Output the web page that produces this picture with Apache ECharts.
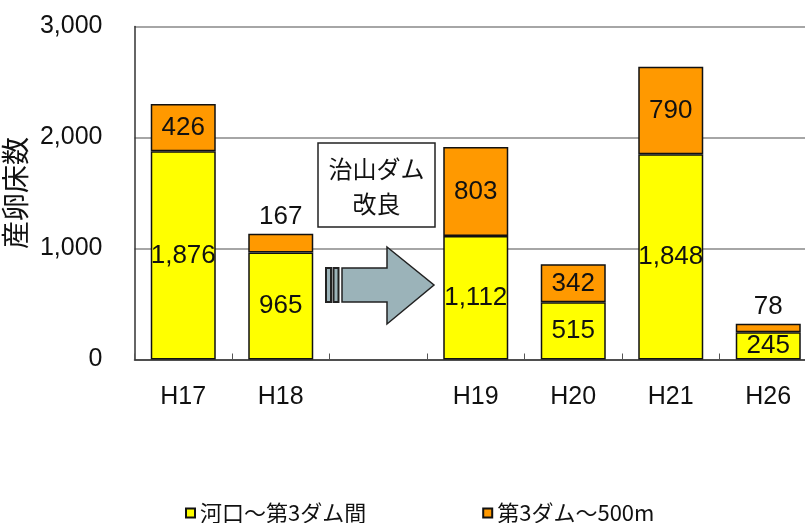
<!DOCTYPE html>
<html>
<head>
<meta charset="utf-8">
<script src="https://cdn.jsdelivr.net/npm/echarts@6/dist/echarts.min.js"></script>
<style>
	html, body { margin: 0; padding: 0; background: #fff; }
	#container { width: 805px; height: 523px; }
</style>
</head>
<body>
<div id="container"></div>
<script>
var categorias = ['H17', 'H18', '', 'H19', 'H20', 'H21', 'H26'];
var valoresKakou = [1876, 965, '-', 1112, 515, 1848, 245];
var valoresDam = [426, 167, '-', 803, 342, 790, 78];
var ticksEjeY = [0, 1000, 2000, 3000];
var nombresSerie = ['河口～第3ダム間', '第3ダム～500m'];

var fuenteNum = "'Liberation Sans', Arial, sans-serif";
var fuenteJp = "'Noto Sans CJK JP', sans-serif";

function conComas(v) {
	return Number(v).toLocaleString('en-US');
}

// etiquetas arriba cuando el tramo es muy chico
var datosDam = valoresDam.map(function (v) {
	if (v !== '-' && v < 200) {
		return { value: v, label: { position: 'top', distance: 4 } };
	}
	return v;
});

var dom = document.getElementById('container');
var myChart = echarts.init(dom);

var option = {
	animation: false,
	backgroundColor: '#fff',
	legend: {
		data: nombresSerie,
		left: 180,
		top: 497,
		icon: 'rect',
		itemWidth: 9,
		itemHeight: 9,
		itemGap: 116,
		textStyle: { fontFamily: fuenteJp, fontSize: 22, color: '#111' }
	},
	grid: {
		left: 134.5,
		right: -12,
		top: 26.5,
		bottom: 163.5,
		outerBoundsMode: 'none',
		containLabel: false
	},
	xAxis: {
		type: 'category',
		data: categorias,
		axisLine: { lineStyle: { color: '#333', width: 1.5 } },
		axisTick: { show: true, inside: true, length: 6, lineStyle: { color: '#555' } },
		axisLabel: { margin: 25, fontSize: 25, fontFamily: fuenteNum, color: '#111' }
	},
	yAxis: {
		type: 'value',
		min: ticksEjeY[0],
		max: ticksEjeY[ticksEjeY.length - 1],
		interval: 1000,
		name: '産卵床数',
		nameLocation: 'middle',
		nameRotate: 90,
		nameGap: 92,
		nameTextStyle: { fontFamily: fuenteJp, fontSize: 28, color: '#111' },
		axisLine: { show: true, lineStyle: { color: '#333', width: 1.5 } },
		axisTick: { show: false },
		splitLine: { lineStyle: { color: '#888', width: 1.5 } },
		axisLabel: {
			margin: 32,
			fontSize: 25,
			fontFamily: fuenteNum,
			color: '#111',
			formatter: function (v) { return conComas(v); }
		}
	},
	series: [
		{
			name: nombresSerie[0],
			type: 'bar',
			stack: 'total',
			barWidth: 65,
			data: valoresKakou,
			itemStyle: { color: '#ffff00', borderColor: '#111', borderWidth: 1.5 },
			label: {
				show: true,
				position: 'inside',
				fontSize: 26,
				fontFamily: fuenteNum,
				color: '#111',
				formatter: function (p) { return conComas(p.value); }
			}
		},
		{
			name: nombresSerie[1],
			type: 'bar',
			stack: 'total',
			barWidth: 65,
			data: datosDam,
			itemStyle: { color: '#ff9900', borderColor: '#111', borderWidth: 1.5 },
			label: {
				show: true,
				position: 'inside',
				fontSize: 26,
				fontFamily: fuenteNum,
				color: '#111',
				formatter: function (p) { return conComas(p.value); }
			}
		}
	],
	graphic: [
		{
			type: 'rect',
			shape: { x: 318, y: 143, width: 117, height: 84 },
			style: { fill: '#fff', stroke: '#222', lineWidth: 1.5 },
			z: 10
		},
		{
			type: 'text',
			x: 376.5, y: 186,
			style: {
				text: '治山ダム\n改良',
				fontFamily: fuenteJp,
				fontSize: 24,
				lineHeight: 35,
				fill: '#111',
				align: 'center',
				verticalAlign: 'middle'
			},
			z: 11
		},
		{
			type: 'polygon',
			shape: { points: [[342, 268], [387, 268], [387, 247], [434, 285], [387, 324], [387, 302], [342, 302]] },
			style: { fill: '#9bb3b9', stroke: '#222', lineWidth: 1.5 },
			z: 10
		},
		{
			type: 'rect',
			shape: { x: 326, y: 268, width: 5, height: 34 },
			style: { fill: '#9bb3b9', stroke: '#222', lineWidth: 2 },
			z: 10
		},
		{
			type: 'rect',
			shape: { x: 333.5, y: 268, width: 5, height: 34 },
			style: { fill: '#9bb3b9', stroke: '#222', lineWidth: 2 },
			z: 10
		}
	]
};

myChart.setOption(option, true);
</script>
</body>
</html>
